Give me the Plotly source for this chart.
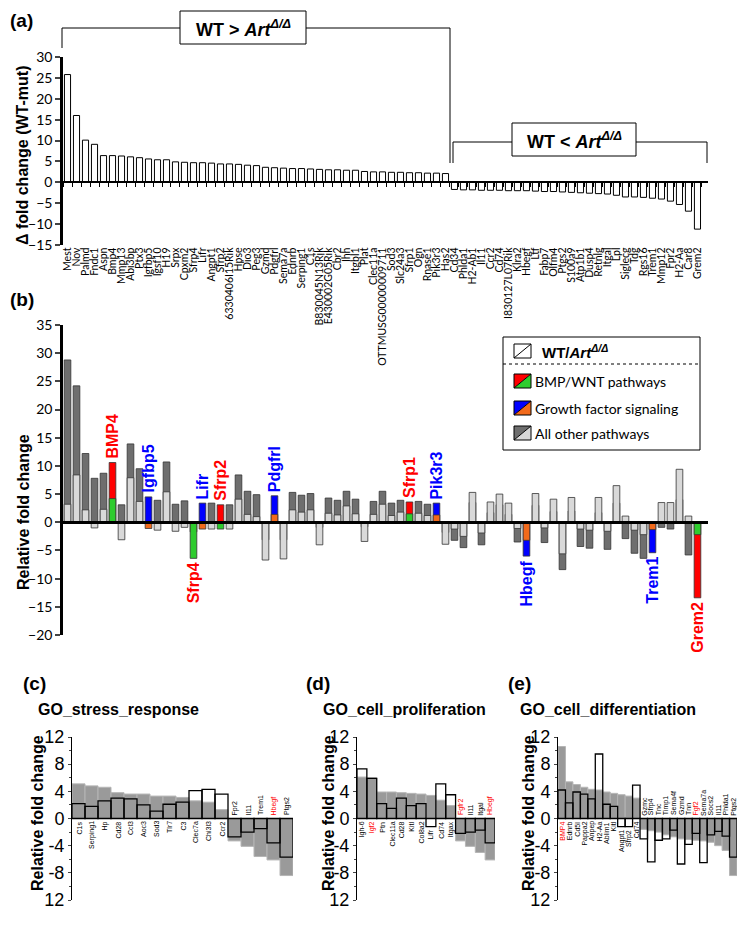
import plotly.graph_objects as go

W, H = 745, 939
OFF = 8  # page body margin in the browser

# ---------------- data ----------------
genes = ["Mest", "Nov", "Palmd", "Fndc1", "Aspn", "Bmp4", "Mmp13", "Abi3bp", "Ptx3", "Igfbp5",
         "Igsf10", "H19", "Srpx", "Cpxm2", "Sfrp4", "Lifr", "Angpt1", "Sfrp2", "6330406I15Rik", "Hpse",
         "Dio3", "Peg3", "Gzmd", "Pdgfrl", "Sema7a", "Ednrb", "Serping1", "C1s", "B830045N13Rik",
         "E430002G05Rik", "Cbr2", "Ihh", "Itgbl1", "Plat", "Clec11a", "OTTMUSG00000009711", "Sod3",
         "Slc24a3", "Sfrp1", "Ogn", "Rnase1", "Pik3r3", "Has2",
         "Cd34", "Phlda1", "H2-Ab1", "Il11", "Ccr2", "Cd74", "I830127L07Rik", "Klra2", "Hbegf", "Ltf",
         "Fabp7", "Olfm4", "Ptgs2", "S100a9", "Atp1b1", "Dusp4", "Retnlg", "Itgal", "Lpl", "Siglecg",
         "Tdg", "Rgs16", "Trem1", "Mmp12", "Fpr2", "H2-Aa", "Car8", "Grem2"]

delta = [25.8, 16.0, 10.1, 9.1, 6.4, 6.4, 6.3, 6.1, 5.9, 5.6,
         5.4, 5.4, 4.9, 4.8, 4.7, 4.7, 4.6, 4.4, 4.4, 4.3,
         4.1, 4.0, 3.6, 3.5, 3.4, 3.3, 3.3, 3.2, 3.1,
         3.0, 3.0, 2.9, 2.9, 2.6, 2.5, 2.5, 2.4,
         2.4, 2.3, 2.3, 2.2, 2.2, 2.1,
         -1.7, -1.8, -1.8, -1.9, -1.9, -1.9, -2.0, -2.0, -2.0, -2.1,
         -2.2, -2.2, -2.3, -2.4, -2.5, -2.6, -2.7, -2.8, -3.1, -3.5,
         -3.5, -3.6, -3.8, -4.0, -4.5, -5.3, -6.9, -11.2]

wt_fc = [28.8, 24.2, 12.2, 7.8, 8.7, 10.6, 3.1, 13.9, 9.5, 4.5,
         3.9, 10.7, 3.2, 3.8, -1.7, 3.4, 3.4, 3.1, 3.1, 8.4,
         5.5, 4.9, -3.1, 4.7, -3.1, 5.3, 4.8, 5.1, -0.9,
         4.3, 3.9, 5.5, 4.1, -0.8, 3.7, 5.5, 3.4,
         3.9, 3.6, 3.7, 3.2, 3.4, -1.8,
         -3.2, -4.5, 3.5, -4.0, 1.7, 3.1, 1.4, -3.5, -6.0, 3.0,
         -3.6, 1.9, -8.4, 2.0, -4.3, -4.6, 1.7, -4.8, 3.4, -2.9,
         -5.5, -6.4, -5.4, -0.9, -1.2, 4.0, -5.8, -13.4]

mut_fc = [3.2, 8.4, 2.2, -1.0, 2.3, 4.2, -3.1, 7.9, 3.7, -1.1,
          -1.4, 5.4, -1.6, -0.9, -6.4, -1.2, -1.2, -1.2, -1.2, 4.1,
          1.4, 1.0, -6.7, 1.4, -6.5, 2.2, 1.8, 2.2, -4.0,
          1.6, 1.3, 2.9, 1.5, -3.4, 1.4, 3.2, 1.2,
          1.8, 1.5, 1.6, 1.2, 1.3, -3.9,
          -1.2, -2.5, 5.3, -1.9, 3.6, 5.0, 3.4, -1.1, -3.2, 5.1,
          -1.0, 4.1, -5.6, 4.4, -1.2, -1.4, 4.4, -1.6, 6.5, 1.1,
          -1.4, -2.2, -1.3, 3.5, 3.5, 9.4, 1.1, -2.2]

bmp_genes = ["Bmp4", "Sfrp4", "Sfrp2", "Sfrp1", "Grem2"]
gf_genes = ["Igfbp5", "Lifr", "Pdgfrl", "Pik3r3", "Hbegf", "Trem1"]
label_names = {"Bmp4": "BMP4"}

c_genes = ["C1s", "Serping1", "Hp", "Cd28", "Ccl3", "Aoc3", "Sod3", "Tlr7", "C3", "Clec7a",
           "Chi3l3", "Ccr2", "Fpr2", "Il11", "Trem1", "Hbegf", "Ptgs2"]
c_wt = [5.1, 4.8, 4.6, 3.8, 3.6, 3.6, 3.3, 3.3, 3.1, 2.6, 2.4, 1.3, -3.3, -4.1, -5.6, -6.1, -8.4]
c_mut = [2.2, 1.8, 2.6, 3.0, 2.9, 2.0, 1.1, 2.1, 2.4, 4.1, 4.3, 3.6, -2.7, -2.0, -1.5, -3.6, -5.7]
c_red = ["Hbegf"]

d_genes = ["Igh-6", "Igf2", "Ptn", "Clec11a", "Cd28", "Kitl", "Col8a2", "Lifr", "Cd74", "Itgax",
           "Fgfr2", "Il11", "Itgal", "Hbegf"]
d_wt = [6.1, 6.0, 3.9, 3.9, 3.8, 3.7, 3.6, 3.4, 2.7, 1.9, -3.3, -4.1, -5.0, -6.1]
d_mut = [7.3, 5.9, 2.2, 1.5, 3.0, 1.9, 2.2, -1.2, 5.1, 3.5, -2.2, -2.0, -1.7, -3.6]
d_red = ["Igf2", "Fgfr2", "Hbegf"]

e_genes = ["BMP4", "Ednrb", "Cd5l", "Pappa2", "Anpep", "H2-Aa", "Ablim1", "Kitl", "Angpt1", "Sfrp2",
           "Cd74", "Gzmc", "Sfrp4", "Tnc", "Timp1", "Sema4f", "Gzmd", "Tnn", "Fgf2", "Sema7a",
           "Socs2", "Il11", "Phlda1", "Ptgs2"]
e_wt = [10.6, 5.4, 5.0, 4.6, 4.3, 4.2, 3.9, 3.7, 3.5, 3.3, 3.0, -1.6, -1.8, -2.0, -2.4, -2.7,
        -3.0, -3.1, -3.2, -3.3, -3.5, -4.0, -4.7, -8.4]
e_mut = [4.2, 2.3, 3.9, 3.6, 2.9, 9.5, 2.1, 1.8, -1.2, -1.2, 4.9, -3.0, -6.4, -3.2, -3.0, -1.7,
         -6.7, -3.8, -2.2, -6.5, -2.4, -1.9, -2.6, -5.7]
e_red = ["BMP4", "Fgf2"]

ARIAL = "Liberation Sans, Arial"
CALIBRI = "Lato, Open Sans"


def px(x):
    return (x - OFF) / W


def py(y):
    return 1 - (y - OFF) / H


def path_tri(points):
    return "M " + " L ".join(f"{px(x)},{py(y)}" for x, y in points) + " Z"


def col_wt(g):
    if g in bmp_genes:
        return "#ff0000"
    if g in gf_genes:
        return "#0000ff"
    return "#6e6e6e"


def col_mut(g):
    if g in bmp_genes:
        return "#2ecc2e"
    if g in gf_genes:
        return "#f26a1b"
    return "#d9d9d9"


def note(x, y, text, size, family=ARIAL, xanchor="center", yanchor="middle", angle=0, color="black"):
    return dict(x=px(x), y=py(y), xref="paper", yref="paper", text=text, showarrow=False,
                xanchor=xanchor, yanchor=yanchor, textangle=angle,
                font=dict(family=family, size=size, color=color))


fig = go.Figure()

# (a) difference bars
fig.add_trace(go.Bar(x=genes, y=delta, xaxis="x", yaxis="y", width=0.68,
                     marker=dict(color="white", line=dict(color="black", width=1))))

# (b) WT then mutant, overlaid
fig.add_trace(go.Bar(x=genes, y=wt_fc, xaxis="x2", yaxis="y2", width=0.74,
                     marker=dict(color=[col_wt(g) for g in genes], line=dict(color="#333", width=0.8))))
fig.add_trace(go.Bar(x=genes, y=mut_fc, xaxis="x2", yaxis="y2", width=0.74,
                     marker=dict(color=[col_mut(g) for g in genes], line=dict(color="#333", width=0.8))))

# (c)(d)(e)
small = [(c_genes, c_wt, c_mut, c_red, "3"), (d_genes, d_wt, d_mut, d_red, "4"),
         (e_genes, e_wt, e_mut, e_red, "5")]
for g, wt, mu, red, k in small:
    idx = list(range(len(g)))
    fig.add_trace(go.Bar(x=idx, y=wt, xaxis="x" + k, yaxis="y" + k, width=1,
                         marker=dict(color="#9a9a9a", line=dict(color="#b5b5b5", width=1))))
    fig.add_trace(go.Bar(x=idx, y=mu, xaxis="x" + k, yaxis="y" + k, width=1,
                         marker=dict(color="rgba(0,0,0,0)", line=dict(color="black", width=1.3))))

annotations = []
shapes = []

# labels in (b)
for g in bmp_genes + gf_genes:
    i = genes.index(g)
    w, m = wt_fc[i], mut_fc[i]
    big = w if abs(w) >= abs(m) else m
    color = "#ff0000" if g in bmp_genes else "#0000ff"
    annotations.append(dict(x=i, y=big, xref="x2", yref="y2", text="<b>" + label_names.get(g, g) + "</b>",
                            textangle=-90, showarrow=False, xanchor="center",
                            yanchor="bottom" if big > 0 else "top",
                            yshift=2 if big > 0 else -2,
                            font=dict(family=ARIAL, size=16, color=color)))

# gene labels in (c)(d)(e)
for g, wt, mu, red, k in small:
    for i, name in enumerate(g):
        if wt[i] > 0:
            yv, anc, sh = min(0, mu[i]), "top", -1
        else:
            yv, anc, sh = max(0, mu[i]), "bottom", 1
        annotations.append(dict(x=i, y=yv, xref="x" + k, yref="y" + k, text=name, textangle=-90,
                                showarrow=False, xanchor="center", yanchor=anc, yshift=sh,
                                font=dict(family=ARIAL, size=7, color="#ff0000" if name in red else "black")))

# panel letters and titles
for txt, x, y in [("(a)", 8, 21), ("(b)", 8, 300), ("(c)", 21, 683), ("(d)", 304, 683), ("(e)", 506, 683)]:
    annotations.append(note(x, y, "<b>" + txt + "</b>", 19, xanchor="left"))
for txt, x in [("GO_stress_response", 36), ("GO_cell_proliferation", 321), ("GO_cell_differentiation", 518)]:
    annotations.append(note(x, 709, "<b>" + txt + "</b>", 16, xanchor="left"))

# y titles
for txt, x, y in [("Δ fold change (WT-mut)", 23, 156), ("Relative fold change", 23, 512),
                  ("Relative fold change", 37, 813), ("Relative fold change", 328, 813),
                  ("Relative fold change", 528, 813)]:
    annotations.append(note(x, y, "<b>" + txt + "</b>", 16, angle=-90))

# brackets in (a)
line = dict(color="black", width=1)
shapes.append(dict(type="path", xref="paper", yref="paper", line=line,
                   path=f"M {px(62)},{py(48)} L {px(62)},{py(28)} L {px(180)},{py(28)}"))
shapes.append(dict(type="path", xref="paper", yref="paper", line=line,
                   path=f"M {px(306)},{py(28)} L {px(450)},{py(28)} L {px(450)},{py(163)}"))
shapes.append(dict(type="rect", xref="paper", yref="paper", line=line, fillcolor="white",
                   x0=px(180), x1=px(306), y0=py(44), y1=py(11)))
shapes.append(dict(type="path", xref="paper", yref="paper", line=line,
                   path=f"M {px(453)},{py(163)} L {px(453)},{py(142)} L {px(512)},{py(142)}"))
shapes.append(dict(type="path", xref="paper", yref="paper", line=line,
                   path=f"M {px(636)},{py(142)} L {px(707)},{py(142)} L {px(707)},{py(163)}"))
shapes.append(dict(type="rect", xref="paper", yref="paper", line=line, fillcolor="white",
                   x0=px(512), x1=px(636), y0=py(156), y1=py(123)))
annotations.append(note(243, 28, "<b>WT > <i>Art</i><sup><i>Δ/Δ</i></sup></b>", 18))
annotations.append(note(574, 140, "<b>WT < <i>Art</i><sup><i>Δ/Δ</i></sup></b>", 18))

# legend box in (b)
shapes.append(dict(type="rect", xref="paper", yref="paper", line=line, fillcolor="white",
                   x0=px(503), x1=px(700), y0=py(450), y1=py(337)))
shapes.append(dict(type="line", xref="paper", yref="paper", line=dict(color="black", width=1, dash="dot"),
                   x0=px(503), x1=px(700), y0=py(364), y1=py(364)))
legend_rows = [("white", "white", 351), ("#ff0000", "#2ecc2e", 381), ("#0000ff", "#f26a1b", 408),
               ("#6e6e6e", "#d9d9d9", 433)]
for c1, c2, yc in legend_rows:
    x0, x1, y0, y1 = 514, 531, yc - 7, yc + 7
    shapes.append(dict(type="path", xref="paper", yref="paper", fillcolor=c1, line=dict(width=0),
                       path=path_tri([(x0, y0), (x1, y0), (x0, y1)])))
    shapes.append(dict(type="path", xref="paper", yref="paper", fillcolor=c2, line=dict(width=0),
                       path=path_tri([(x1, y0), (x1, y1), (x0, y1)])))
    shapes.append(dict(type="rect", xref="paper", yref="paper", line=line,
                       x0=px(x0), x1=px(x1), y0=py(y1), y1=py(y0)))
    shapes.append(dict(type="line", xref="paper", yref="paper", line=line,
                       x0=px(x0), x1=px(x1), y0=py(y1), y1=py(y0)))
annotations.append(note(540, 351, "<b>WT/<i>Art</i><sup><i>Δ/Δ</i></sup></b>", 15, xanchor="left"))
for txt, yc in [("BMP/WNT pathways", 381), ("Growth factor signaling", 408), ("All other pathways", 433)]:
    annotations.append(note(533, yc, txt, 14, family=CALIBRI, xanchor="left"))

# ---------------- axes ----------------
xa_dom = [px(63), px(708)]
a_zero = 245 - 15 * (245 - 57) / 45
b_zero = 635 - 20 * (635 - 325) / 55

layout = dict(
    width=W, height=H, margin=dict(l=0, r=0, t=0, b=0, pad=0, autoexpand=False),
    paper_bgcolor="white", plot_bgcolor="rgba(0,0,0,0)",
    barmode="overlay", showlegend=False,
    annotations=annotations, shapes=shapes,
    font=dict(family=ARIAL, color="black"),
    xaxis=dict(domain=xa_dom, range=[-0.5, 71.17], anchor="free", position=py(a_zero),
               showline=True, linewidth=2, linecolor="black", ticks="outside", tickson="boundaries",
               tickmode="linear", dtick=1, tick0=0,
               ticklen=4, tickcolor="black", tickangle=-90, ticklabelstandoff=60, automargin=False,
               tickfont=dict(family=CALIBRI, size=10.5), showgrid=False, layer="above traces"),
    yaxis=dict(domain=[py(245), py(57)], range=[-15, 30], dtick=5, anchor="x", showline=True,
               linewidth=2.5, linecolor="black", ticks="outside", ticklen=5, tickwidth=2, automargin=False,
               tickfont=dict(family=CALIBRI, size=14), showgrid=False, zeroline=False),
    xaxis2=dict(domain=xa_dom, range=[-0.5, 71.17], anchor="free", position=py(b_zero),
                showline=True, linewidth=2.5, linecolor="black", ticks="", showticklabels=False,
                automargin=False, showgrid=False, layer="above traces"),
    yaxis2=dict(domain=[py(635), py(325)], range=[-20, 35], dtick=5, anchor="x2", showline=True,
                linewidth=2.5, linecolor="black", ticks="outside", ticklen=5, tickwidth=2, automargin=False,
                tickfont=dict(family=CALIBRI, size=14), showgrid=False, zeroline=False),
)

small_dom = {"3": (72, 293), "4": (357, 495), "5": (558, 737)}
for g, wt, mu, red, k in small:
    a, b = small_dom[k]
    layout["xaxis" + k] = dict(domain=[px(a), px(b)], range=[-0.5, len(g) - 0.5], anchor="y" + k,
                               visible=False, automargin=False)
    layout["yaxis" + k] = dict(domain=[py(900), py(737)], range=[-12, 12], anchor="x" + k,
                               tickvals=[12, 8, 4, 0, -4, -8, -12],
                               ticktext=["12", "8", "4", "0", "-4", "-8", "12"],
                               showline=True, linewidth=1, linecolor="black", ticks="outside",
                               ticklen=3, tickfont=dict(family=ARIAL, size=18), showgrid=False,
                               zeroline=False, automargin=False,
                               minor=dict(tickvals=[10, 6, 2, -2, -6, -10], ticks="outside", ticklen=2))

fig.update_layout(**layout)
fig.write_html("out.html")
